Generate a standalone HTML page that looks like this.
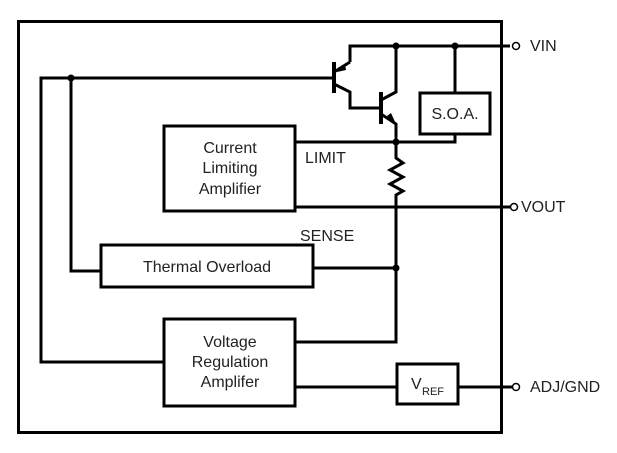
<!DOCTYPE html>
<html><head><meta charset="utf-8"><style>
html,body{margin:0;padding:0;background:#fff;}
svg{display:block;}
text{font-family:"Liberation Sans",Arial,sans-serif;fill:#222;font-size:16px;}
</style></head><body>
<svg width="617" height="453" viewBox="0 0 617 453" xmlns="http://www.w3.org/2000/svg">
<g fill="none" stroke="#000" stroke-width="3">
<rect x="18.5" y="21.5" width="483" height="411"/>
<polyline points="334,78 41,78 41,362 164,362"/>
<polyline points="71,78 71,271 101,271"/>
<line x1="334" y1="62" x2="334" y2="93" stroke-width="4"/>
<polyline points="350,62 350,46 510,46"/>
<polyline points="334,72 350,62"/>
<polyline points="334,84 350,92 350,108 381,108"/>
<line x1="381" y1="92" x2="381" y2="124" stroke-width="4"/>
<polyline points="381,100 396,92 396,46"/>
<polyline points="381,114 396,124 396,142"/>
<line x1="455" y1="46" x2="455" y2="93"/>
<rect x="420" y="93" width="70" height="41"/>
<polyline points="295,142 455,142 455,134"/>
<polyline points="396,142 396,158 403,163 390,170 403,177 390,184 403,191 396,195 396,342 295,342"/>
<line x1="313" y1="268" x2="396" y2="268"/>
<rect x="164" y="126" width="131" height="85"/>
<line x1="295" y1="207" x2="512" y2="207"/>
<rect x="101" y="245" width="212" height="42"/>
<rect x="164" y="319" width="131" height="87"/>
<line x1="295" y1="387" x2="397" y2="387"/>
<rect x="397" y="364" width="61" height="40"/>
<line x1="458" y1="387" x2="512" y2="387"/>
</g>
<g fill="#000">
<circle cx="71" cy="78" r="3.5"/>
<circle cx="396" cy="46" r="3.5"/>
<circle cx="455" cy="46" r="3.5"/>
<circle cx="396" cy="142" r="3.5"/>
<circle cx="396" cy="268" r="3.5"/>
<polygon points="337,72 345,64 346,70"/>
<polygon points="396,124 387,116 391,113"/>
</g>
<g fill="#fff" stroke="#000" stroke-width="1.5">
<circle cx="516" cy="46" r="3.5"/>
<circle cx="514" cy="207" r="3.5"/>
<circle cx="516" cy="387" r="3.5"/>
</g>
<text x="455" y="119" text-anchor="middle">S.O.A.</text>
<text x="230" y="153" text-anchor="middle">Current</text>
<text x="230" y="173" text-anchor="middle">Limiting</text>
<text x="230" y="194" text-anchor="middle">Amplifier</text>
<text x="305" y="163">LIMIT</text>
<text x="300" y="241">SENSE</text>
<text x="207" y="272" text-anchor="middle">Thermal Overload</text>
<text x="230" y="347" text-anchor="middle">Voltage</text>
<text x="230" y="367" text-anchor="middle">Regulation</text>
<text x="230" y="387" text-anchor="middle">Amplifer</text>
<text x="411" y="389">V</text><text x="422" y="395" style="font-size:11px">REF</text>
<text x="530" y="51">VIN</text>
<text x="521" y="212">VOUT</text>
<text x="530" y="392">ADJ/GND</text>
</svg>
</body></html>
